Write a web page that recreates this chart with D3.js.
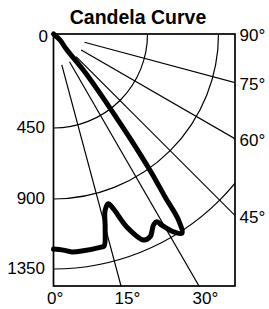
<!DOCTYPE html>
<html lang="en">
<head>
  <meta charset="UTF-8">
  <title>Candela Curve</title>
  <script src="https://d3js.org/d3.v7.min.js"></script>
  <style>
    body { margin: 0; background: #fff; }
    text { font-family: "Liberation Sans", Arial, sans-serif; fill: #000; }
  </style>
</head>
<body>
  <svg width="269" height="309"></svg>

  <script>
    // Chart values
    const candelaTicks = [0, 450, 900, 1350];
    const angleTicks = [0, 15, 30, 45, 60, 75, 90];
    const spokeAngles = [15, 30, 45, 60, 75];

    // candela curve: angle (deg from nadir) and intensity (cd)
    const curveAngles = [50, 47, 40, 39.6, 38.1, 36.9, 36.1, 35.2, 34.4, 33.9, 32.8,
      31.2, 29.5, 28.8, 27.6, 25.5, 23.6, 20.8, 18.9, 17.9, 16.3, 14.9, 13.4, 12.3, 7.8, 4.8, 2.6, 0];
    const curveCandela = [0, 42, 99, 224, 361, 523, 714, 938, 1109, 1280, 1363,
      1326, 1251, 1217, 1226, 1283, 1284, 1166, 1026, 986, 1021, 1131, 1241, 1243, 1246, 1245, 1230, 1222];

    const svg = d3.select("svg");

    // plot box, origin is the top-left corner
    const ox = 53.5, oy = 34, right = 235, bottom = 286;
    const w = right - ox, h = bottom - oy;

    const rScale = d3.scaleLinear()
      .domain(candelaTicks)
      .range([0, 94, 165, 235]);

    const rad = d => d * Math.PI / 180;

    // title
    svg.append("text")
      .attr("x", 138)
      .attr("y", 23.5)
      .attr("text-anchor", "middle")
      .attr("font-size", 19.5)
      .attr("font-weight", "bold")
      .text("Candela Curve");

    const g = svg.append("g").attr("transform", `translate(${ox},${oy})`);

    g.append("clipPath").attr("id", "box")
      .append("rect").attr("width", w).attr("height", h);

    const grid = g.append("g").attr("clip-path", "url(#box)");

    // rings
    grid.selectAll(".ring")
      .data(candelaTicks.filter(d => d > 0))
      .enter().append("path")
      .attr("class", "ring")
      .attr("d", d => {
        const p = d3.path();
        const r = rScale(d);
        p.moveTo(r, 0);
        p.arc(0, 0, r, 0, Math.PI / 2);
        return p.toString();
      })
      .attr("fill", "none")
      .attr("stroke", "black")
      .attr("stroke-width", 1.2);

    // spokes
    const spokeStart = 32, spokeEnd = 400;
    grid.selectAll(".spoke")
      .data(spokeAngles)
      .enter().append("line")
      .attr("class", "spoke")
      .attr("x1", d => spokeStart * Math.sin(rad(d)))
      .attr("y1", d => spokeStart * Math.cos(rad(d)))
      .attr("x2", d => spokeEnd * Math.sin(rad(d)))
      .attr("y2", d => spokeEnd * Math.cos(rad(d)))
      .attr("stroke", "black")
      .attr("stroke-width", 1.2);

    // box
    g.append("rect")
      .attr("width", w)
      .attr("height", h)
      .attr("fill", "none")
      .attr("stroke", "black")
      .attr("stroke-width", 1.7);

    // candela curve
    const points = curveAngles.map((a, i) => [a, curveCandela[i]]);
    const line = d3.lineRadial()
      .angle(d => Math.PI - rad(d[0]))
      .radius(d => rScale(d[1]))
      .curve(d3.curveCatmullRom);

    g.append("path")
      .datum(points)
      .attr("d", line)
      .attr("fill", "none")
      .attr("stroke", "black")
      .attr("stroke-width", 5)
      .attr("stroke-linejoin", "round")
      .attr("stroke-linecap", "round");

    // candela labels on the left
    g.selectAll(".cdLabel")
      .data(candelaTicks)
      .enter().append("text")
      .attr("class", "cdLabel")
      .attr("x", d => d === 0 ? -5.5 : -8.5)
      .attr("y", d => d === 0 ? 2.5 : rScale(d) - 1)
      .attr("dy", "0.35em")
      .attr("text-anchor", "end")
      .attr("font-size", 17)
      .text(d => d);

    // angle labels: right edge or bottom edge
    const limit = Math.atan2(w, h) * 180 / Math.PI;
    g.selectAll(".angLabel")
      .data(angleTicks)
      .enter().append("text")
      .attr("class", "angLabel")
      .attr("x", d => d > limit ? w + 4.5 : h * Math.tan(rad(d)) - 6.5)
      .attr("y", d => d > limit ? (d === 90 ? 0 : w / Math.tan(rad(d))) + 1.5 : h + 17.5)
      .attr("dy", d => d > limit ? "0.35em" : 0)
      .attr("font-size", 17)
      .text(d => d + "°");
  </script>
</body>
</html>
